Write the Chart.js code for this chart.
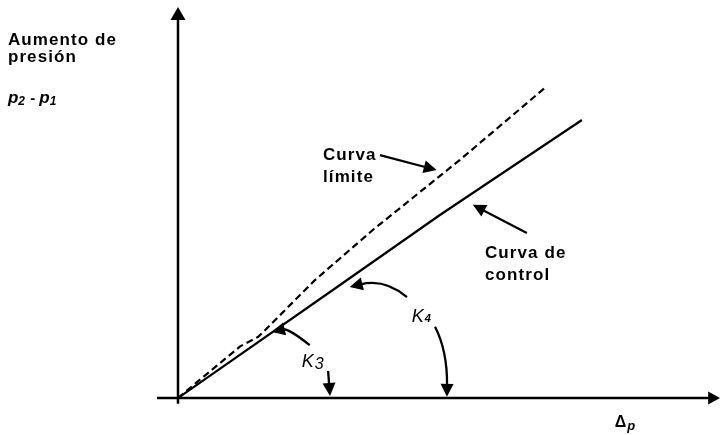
<!DOCTYPE html>
<html><head><meta charset="utf-8">
<script src="https://cdn.jsdelivr.net/npm/chart.js@4.4.0/dist/chart.umd.min.js"></script>
<style>html,body{margin:0;padding:0;background:#fff}#wrap{width:720px;height:435px;position:relative}</style>
</head><body><div id="wrap"><canvas id="c"></canvas></div>
<script>
// ---- data (axis units 0..100) ----
const controlX = [0, 30, 48.5, 74.8];
const controlY = [0, 28.9, 46.8, 71.1];
const limitX = [0, 11.5, 14.8, 16.3, 25.4, 36.1, 52.2, 68.1];
const limitY = [0, 13.2, 15.6, 17.6, 30.2, 43.0, 60.9, 79.5];
const axisMin = 0, axisMax = 100;
// ---- text ----
const yTitleLines = ["Aumento de", "presión"];
const yVarParts = ["p", "2", " - ", "p", "1"];
const limitLabel = ["Curva", "límite"];
const controlLabel = ["Curva de", "control"];
const k3Parts = ["K", "3"];
const k4Parts = ["K", "4"];
const xVarParts = ["Δ", "p"];

const FONT = '"Liberation Sans", Arial, sans-serif';

// annotation layout (in axis units)
const layout = {
  yTitle: {x: -31.5, y: [90.3, 85.9], var: 75.4},
  limitText: {x: 26.85, y: [60.9, 55.3]},
  controlText: {x: 56.85, y: [35.8, 30.2]},
  k3Text: {x: 22.9, y: 7.9},
  k4Text: {x: 43.3, y: 19.4},
  xVar: {x: 80.9, y: -7.4},
  arrows: [
    {from: [37.4, 62.1], to: [47.9, 58.3]},
    {from: [64.6, 42.2], to: [54.6, 49.4]},
    {from: [24.4, 13.5], ctrl: [20.4, 17.9], to: [17.4, 16.9]},
    {from: [27.8, 6.9], to: [28.15, 0.5]},
    {from: [42.4, 25.8], ctrl: [38.3, 30.6], to: [31.8, 28.4]},
    {from: [47.6, 18.2], ctrl: [49.9, 12.0], to: [49.8, 0.3]}
  ],
  xAxis: {from: -3.9, to: 100.4},
  yAxis: {from: -1.5, to: 100.0}
};

function pts(xs, ys){ return xs.map((x,i)=>({x:x, y:ys[i]})); }

function head(ctx, tx, ty, fx, fy, len, hw){
  const a = Math.atan2(ty-fy, tx-fx);
  const bx = tx - len*Math.cos(a), by = ty - len*Math.sin(a);
  ctx.beginPath();
  ctx.moveTo(tx, ty);
  ctx.lineTo(bx - hw*Math.sin(a), by + hw*Math.cos(a));
  ctx.lineTo(bx + hw*Math.sin(a), by - hw*Math.cos(a));
  ctx.closePath();
  ctx.fill();
  return [bx + 2*Math.cos(a), by + 2*Math.sin(a)];
}

function parts(ctx, x, y, list, specs){
  let cx = x;
  list.forEach((t,i)=>{
    const s = specs[i % specs.length];
    ctx.font = s.font;
    ctx.fillText(t, cx, y + (s.dy||0));
    cx += ctx.measureText(t).width + (s.gap||0);
  });
}

const drawPlugin = {
  id: 'sketch',
  afterDatasetsDraw(chart){
    const ctx = chart.ctx, xs = chart.scales.x, ys = chart.scales.y;
    const X = v => xs.getPixelForValue(v), Y = v => ys.getPixelForValue(v);
    ctx.save();
    ctx.fillStyle = '#000'; ctx.strokeStyle = '#000';
    ctx.lineCap = 'butt';
    // axes
    ctx.lineWidth = 2.5;
    const x0 = X(0), y0 = Y(0);
    const xTip = X(layout.xAxis.to), yTip = Y(layout.yAxis.to);
    ctx.beginPath();
    ctx.moveTo(X(layout.xAxis.from), y0); ctx.lineTo(xTip - 10, y0);
    ctx.moveTo(x0, Y(layout.yAxis.from)); ctx.lineTo(x0, yTip + 10);
    ctx.stroke();
    head(ctx, xTip, y0, xTip - 20, y0, 12, 6.5);
    head(ctx, x0, yTip, x0, yTip + 20, 13, 7.5);
    // annotation arrows
    ctx.lineWidth = 2.3;
    layout.arrows.forEach(a=>{
      const fx = X(a.from[0]), fy = Y(a.from[1]), tx = X(a.to[0]), ty = Y(a.to[1]);
      if (a.ctrl){
        const cx = X(a.ctrl[0]), cy = Y(a.ctrl[1]);
        const b = head(ctx, tx, ty, cx, cy, 13, 6.5);
        ctx.beginPath(); ctx.moveTo(fx, fy); ctx.quadraticCurveTo(cx, cy, b[0], b[1]); ctx.stroke();
      } else {
        const b = head(ctx, tx, ty, fx, fy, 13, 6.5);
        ctx.beginPath(); ctx.moveTo(fx, fy); ctx.lineTo(b[0], b[1]); ctx.stroke();
      }
    });
    // texts
    ctx.textBaseline = 'alphabetic'; ctx.textAlign = 'left';
    ctx.font = 'bold 17px ' + FONT;
    ctx.letterSpacing = '1.1px';
    yTitleLines.forEach((t,i)=> ctx.fillText(t, X(layout.yTitle.x), Y(layout.yTitle.y[i])));
    limitLabel.forEach((t,i)=> ctx.fillText(t, X(layout.limitText.x), Y(layout.limitText.y[i])));
    controlLabel.forEach((t,i)=> ctx.fillText(t, X(layout.controlText.x), Y(layout.controlText.y[i])));
    ctx.letterSpacing = '0px';
    const big = {font: 'italic bold 17px ' + FONT};
    const sub = {font: 'italic bold 12px ' + FONT, dy: 2, gap: 1};
    const mid = {font: 'bold 15px ' + FONT};
    parts(ctx, X(layout.yTitle.x), Y(layout.yTitle.var), yVarParts, [big, sub, mid, big, sub]);
    parts(ctx, X(layout.k3Text.x), Y(layout.k3Text.y), k3Parts,
      [{font: 'italic 18px ' + FONT, gap: 1}, {font: 'italic 16px ' + FONT, dy: 2}]);
    parts(ctx, X(layout.k4Text.x), Y(layout.k4Text.y), k4Parts,
      [{font: 'italic 18px ' + FONT, gap: 1}, {font: 'italic bold 11px ' + FONT, dy: 0}]);
    parts(ctx, X(layout.xVar.x), Y(layout.xVar.y), xVarParts,
      [{font: 'bold 16px ' + FONT, gap: 1}, {font: 'italic bold 13px ' + FONT, dy: 3}]);
    ctx.restore();
  }
};

new Chart(document.getElementById('c'), {
  type: 'scatter',
  data: {
    datasets: [
      {label: 'Curva de control', data: pts(controlX, controlY), showLine: true,
       borderColor: '#000', borderWidth: 2.2, pointRadius: 0, tension: 0},
      {label: 'Curva límite', data: pts(limitX, limitY), showLine: true,
       borderColor: '#000', borderWidth: 2.2, borderDash: [7, 4], pointRadius: 0, tension: 0}
    ]
  },
  options: {
    responsive: true, maintainAspectRatio: false, animation: false,
    layout: {padding: {left: 178, right: 2, top: 7, bottom: 37}},
    scales: {
      x: {type: 'linear', min: axisMin, max: axisMax, display: false},
      y: {type: 'linear', min: axisMin, max: axisMax, display: false}
    },
    plugins: {legend: {display: false}, tooltip: {enabled: false}}
  },
  plugins: [drawPlugin]
});
</script>
</body></html>
